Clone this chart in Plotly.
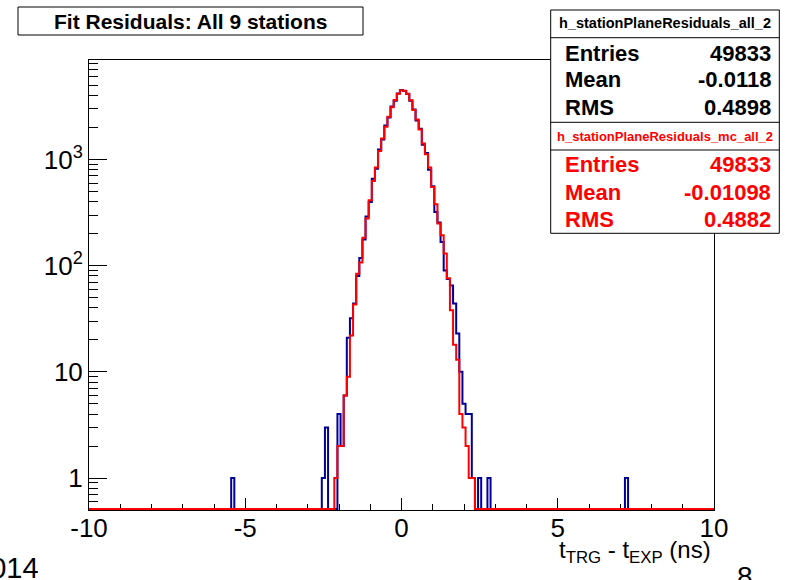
import numpy as np
import plotly.graph_objects as go

# ---------------- data ----------------
x_min, x_max = -10.0, 10.0                      # axis range
hist_lo, hist_hi, n_bins = -10.05, 10.05, 201    # histogram binning (width 0.1)
core_first_edge = -2.55   # low edge of first bin listed in the core arrays

# data histogram (h_stationPlaneResiduals_all_2)
blue_core = [1, 3, 0, 0, 0, 4, 2, 6, 21, 32, 44, 80, 118, 176, 290, 398, 660, 820,
             1240, 1540, 2090, 2480, 3160, 3580, 4190, 4520, 4420, 4150, 3570, 2950,
             2330, 1950, 1380, 1150, 800, 560, 320, 255, 167, 90, 75, 65, 44, 23, 10,
             5, 4, 4, 1, 0, 1, 0, 0, 1]
# MC histogram (h_stationPlaneResiduals_mc_all_2)
red_core = [0, 0, 0, 0, 1, 2, 2, 6, 9, 22, 43, 84, 107, 183, 278, 413, 628, 841,
            1205, 1578, 2032, 2525, 3097, 3624, 4150, 4480, 4450, 4130, 3620, 2920,
            2385, 1918, 1416, 1122, 841, 552, 379, 249, 193, 130, 76, 38, 18, 13, 4,
            3, 2, 1, 1, 0, 0, 0, 0, 0]
blue_outlier_edges = [-5.45, 7.15]
blue_outlier_counts = [1, 1]

y_tick_vals = [1, 10, 100, 1000]
y_tick_text = ["1", "10", "10<sup>2</sup>", "10<sup>3</sup>"]
x_tick_vals = [-10, -5, 0, 5, 10]
x_tick_text = ["-10", "-5", "0", "5", "10"]

stats_blue = [("Entries", "49833"), ("Mean", "-0.0118"), ("RMS", "0.4898")]
stats_red = [("Entries", "49833"), ("Mean", "-0.01098"), ("RMS", "0.4882")]
name_blue = "h_stationPlaneResiduals_all_2"
name_red = "h_stationPlaneResiduals_mc_all_2"
title_text = "Fit Residuals: All 9 stations"

# ---------------- build histograms ----------------
W, H = 790, 580
L, R, T, B = 89, 714, 60, 510
y_low, y_high = 0.5, 8650.0
px_per_decade = (B - T) / (np.log10(y_high) - np.log10(y_low))
# empty bins are drawn along the frame bottom (1 px above it so the line is not clipped away)
y_zero = 10 ** (np.log10(y_low) + 1.0 / px_per_decade)

bw = (hist_hi - hist_lo) / n_bins
edges = np.clip(hist_lo + bw * np.arange(n_bins + 1), x_min, x_max)


def full_hist(core, out_edges=(), out_counts=()):
    h = np.zeros(n_bins)
    i0 = int(round((core_first_edge - hist_lo) / bw))
    h[i0:i0 + len(core)] = core
    for e, c in zip(out_edges, out_counts):
        h[int(round((e - hist_lo) / bw))] = c
    return h


def step_xy(h):
    y = np.where(h > 0, h, y_zero)
    return edges, np.append(y, y[-1])


hb = full_hist(blue_core, blue_outlier_edges, blue_outlier_counts)
hr = full_hist(red_core)

fig = go.Figure()
bx, by = step_xy(hb)
rx, ry = step_xy(hr)
fig.add_trace(go.Scatter(x=bx, y=by, mode="lines", line=dict(color="rgb(0,0,153)", width=2, shape="hv"),
                         cliponaxis=False, showlegend=False, hoverinfo="skip"))
fig.add_trace(go.Scatter(x=rx, y=ry, mode="lines", line=dict(color="#ff0000", width=2, shape="hv"),
                         cliponaxis=False, showlegend=False, hoverinfo="skip"))

# ---------------- layout ----------------
FONT = "Liberation Sans, Arial, Helvetica, sans-serif"


def px(x):
    return (x - L) / (R - L)


def py(y):
    return (B - y) / (B - T)


minor_y = []
for dec in [0.1, 1, 10, 100, 1000]:
    for m in range(2, 10):
        v = m * dec
        if y_low <= v <= y_high:
            minor_y.append(v)

fig.update_layout(
    width=W, height=H,
    margin=dict(l=L, r=W - R, t=T, b=H - B),
    paper_bgcolor="white", plot_bgcolor="white",
    font=dict(family=FONT, color="black"),
    xaxis=dict(range=[x_min, x_max], showline=True, mirror=True, linecolor="black", linewidth=1,
               layer="below traces",
               showgrid=False, zeroline=False, ticks="inside", ticklen=12, tickcolor="black",
               tickvals=x_tick_vals, ticktext=x_tick_text, tickfont=dict(size=26),
               ticklabelstandoff=-5,
               minor=dict(ticks="inside", ticklen=6, dtick=1, tickcolor="black", showgrid=False)),
    yaxis=dict(type="log", range=[np.log10(y_low), np.log10(y_high)], showline=True, mirror=True,
               linecolor="black", linewidth=1, showgrid=False, zeroline=False, layer="below traces",
               ticks="inside", ticklen=18, tickcolor="black",
               tickvals=y_tick_vals, ticktext=y_tick_text, tickfont=dict(size=26),
               minor=dict(ticks="inside", ticklen=9, tickmode="array", tickvals=minor_y,
                          tickcolor="black", showgrid=False)),
)

shapes = []
ann = []

# title box
shapes.append(dict(type="rect", xref="paper", yref="paper", x0=px(18), x1=px(363), y0=py(35), y1=py(7),
                   line=dict(color="black", width=1), fillcolor="white", layer="above"))
ann.append(dict(xref="paper", yref="paper", x=px(190.5), y=py(21.5), text="<b>" + title_text + "</b>",
                showarrow=False, xanchor="center", yanchor="middle", font=dict(size=21, color="black")))

# stats box
sx0, sx1 = 550.7, 779.3
shapes.append(dict(type="rect", xref="paper", yref="paper", x0=px(sx0), x1=px(sx1), y0=py(233.3), y1=py(10),
                   line=dict(color="black", width=1), fillcolor="white", layer="above"))
for yy in [37.7, 122.3, 150]:
    shapes.append(dict(type="line", xref="paper", yref="paper", x0=px(sx0), x1=px(sx1), y0=py(yy), y1=py(yy),
                       line=dict(color="black", width=1), layer="above"))

ann.append(dict(xref="paper", yref="paper", x=px((sx0 + sx1) / 2), y=py(23.5), text="<b>" + name_blue + "</b>",
                showarrow=False, xanchor="center", yanchor="middle", font=dict(size=14.5, color="black")))
ann.append(dict(xref="paper", yref="paper", x=px((sx0 + sx1) / 2), y=py(136), text="<b>" + name_red + "</b>",
                showarrow=False, xanchor="center", yanchor="middle", font=dict(size=13, color="#ff0000")))
for (lab, val), yy in zip(stats_blue, [53.3, 80, 107.3]):
    ann.append(dict(xref="paper", yref="paper", x=px(562.7), y=py(yy), text="<b>" + lab + "</b>",
                    showarrow=False, xanchor="left", yanchor="middle", font=dict(size=22, color="black")))
    ann.append(dict(xref="paper", yref="paper", x=px(772.7), y=py(yy), text="<b>" + val + "</b>",
                    showarrow=False, xanchor="right", yanchor="middle", font=dict(size=22, color="black")))
for (lab, val), yy in zip(stats_red, [165, 192.7, 220]):
    ann.append(dict(xref="paper", yref="paper", x=px(562.7), y=py(yy), text="<b>" + lab + "</b>",
                    showarrow=False, xanchor="left", yanchor="middle", font=dict(size=22, color="#ff0000")))
    ann.append(dict(xref="paper", yref="paper", x=px(772.7), y=py(yy), text="<b>" + val + "</b>",
                    showarrow=False, xanchor="right", yanchor="middle", font=dict(size=22, color="#ff0000")))

# x-axis title
ann.append(dict(xref="paper", yref="paper", x=px(713), y=py(551), text="t<sub>TRG</sub> - t<sub>EXP</sub> (ns)",
                showarrow=False, xanchor="right", yanchor="middle", font=dict(size=24, color="black")))

# clipped slide text fragments at the bottom edge
ann.append(dict(xref="paper", yref="paper", x=px(-28), y=py(568), text="2014",
                showarrow=False, xanchor="left", yanchor="middle", font=dict(size=29, color="black")))
ann.append(dict(xref="paper", yref="paper", x=px(745), y=py(576), text="8",
                showarrow=False, xanchor="center", yanchor="middle", font=dict(size=28, color="black")))

fig.update_layout(shapes=shapes, annotations=ann)
fig.write_html("out.html")
